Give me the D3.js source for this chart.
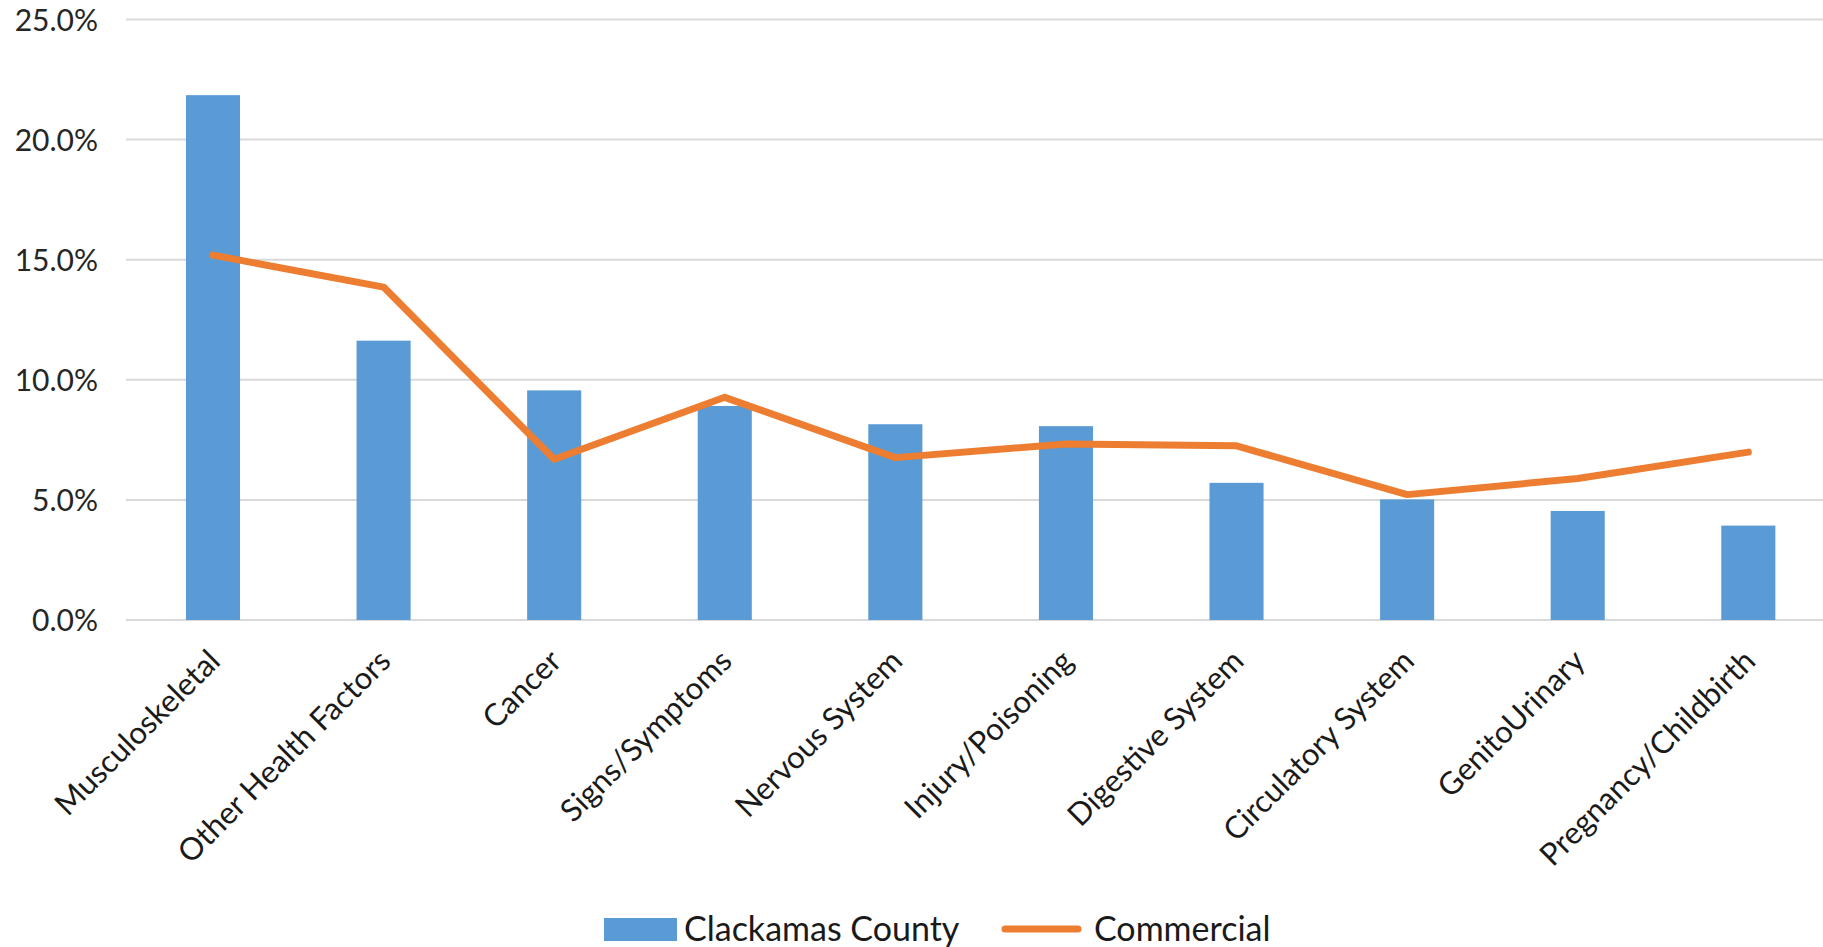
<!DOCTYPE html>
<html>
<head>
<meta charset="utf-8">
<script src="https://cdn.jsdelivr.net/npm/d3@7"></script>
<style>
  html, body { margin: 0; padding: 0; background: #fff; }
  svg { display: block; }
  text { font-family: Lato, "Open Sans", sans-serif; }
</style>
</head>
<body>
<svg id="chart" width="1823" height="947"></svg>
<script>
// ---- Data ----
const categories = ["Musculoskeletal", "Other Health Factors", "Cancer", "Signs/Symptoms",
  "Nervous System", "Injury/Poisoning", "Digestive System", "Circulatory System",
  "GenitoUrinary", "Pregnancy/Childbirth"];
const clackamasCounty = [21.85, 11.63, 9.56, 8.91, 8.15, 8.07, 5.71, 5.02, 4.54, 3.93];
const commercial = [15.19, 13.86, 6.69, 9.27, 6.76, 7.33, 7.25, 5.22, 5.89, 6.99];
const yTicks = [0, 5, 10, 15, 20, 25];
const seriesNames = ["Clackamas County", "Commercial"];

// ---- Chart ----
const W = 1823, H = 947;
const svg = d3.select("#chart");
svg.append("rect").attr("width", W).attr("height", H).attr("fill", "#fff");

const y = d3.scaleLinear().domain([0, 25]).range([620, 19.5]);
const x = d3.scaleBand().domain(categories).range([127.7, 1833.6])
  .paddingInner(0.683).paddingOuter(0.3415);

const gridLeft = 126, gridRight = W;

// gridlines
svg.append("g").selectAll("line").data(yTicks).join("line")
  .attr("x1", gridLeft).attr("x2", gridRight)
  .attr("y1", d => y(d)).attr("y2", d => y(d))
  .attr("stroke", "#d9d9d9").attr("stroke-width", 2);

// y axis labels
const yAxis = d3.axisLeft(y).tickValues(yTicks).tickSize(0).tickPadding(0)
  .tickFormat(d => d3.format(".1f")(d) + "%");
const gy = svg.append("g").attr("transform", "translate(98,0)").call(yAxis);
gy.select(".domain").remove();
gy.selectAll("text").attr("font-size", 30).attr("fill", "#262626")
  .attr("font-family", "Lato, sans-serif").attr("dy", "0.35em");

// bars
svg.append("g").selectAll("rect").data(categories).join("rect")
  .attr("x", d => x(d))
  .attr("width", x.bandwidth())
  .attr("y", (d, i) => y(clackamasCounty[i]))
  .attr("height", (d, i) => y(0) - y(clackamasCounty[i]))
  .attr("fill", "#5b9bd5");

// line
const line = d3.line()
  .x((d, i) => x(categories[i]) + x.bandwidth() / 2)
  .y(d => y(d));
svg.append("path").datum(commercial)
  .attr("d", line)
  .attr("fill", "none")
  .attr("stroke", "#ed7d31")
  .attr("stroke-width", 7)
  .attr("stroke-linejoin", "round")
  .attr("stroke-linecap", "round");

// x axis labels
const xAxis = d3.axisBottom(x).tickSize(0).tickPadding(0);
const gx = svg.append("g").attr("transform", "translate(0,620)").call(xAxis);
gx.select(".domain").remove();
gx.selectAll(".tick text")
  .attr("font-size", 31).attr("fill", "#1a1a1a")
  .attr("font-family", "Lato, sans-serif")
  .attr("text-anchor", "end")
  .attr("dy", 0).attr("y", 0)
  .attr("transform", "translate(9,43) rotate(-45)");

// legend
const leg = svg.append("g");
leg.append("rect").attr("x", 604).attr("y", 918).attr("width", 73).attr("height", 23)
  .attr("fill", "#5b9bd5");
leg.append("text").attr("x", 684).attr("y", 941).attr("font-size", 34)
  .attr("fill", "#1a1a1a").text(seriesNames[0]);
leg.append("line").attr("x1", 1005).attr("x2", 1078).attr("y1", 929).attr("y2", 929)
  .attr("stroke", "#ed7d31").attr("stroke-width", 7).attr("stroke-linecap", "round");
leg.append("text").attr("x", 1094).attr("y", 941).attr("font-size", 34)
  .attr("fill", "#1a1a1a").text(seriesNames[1]);
</script>
</body>
</html>
